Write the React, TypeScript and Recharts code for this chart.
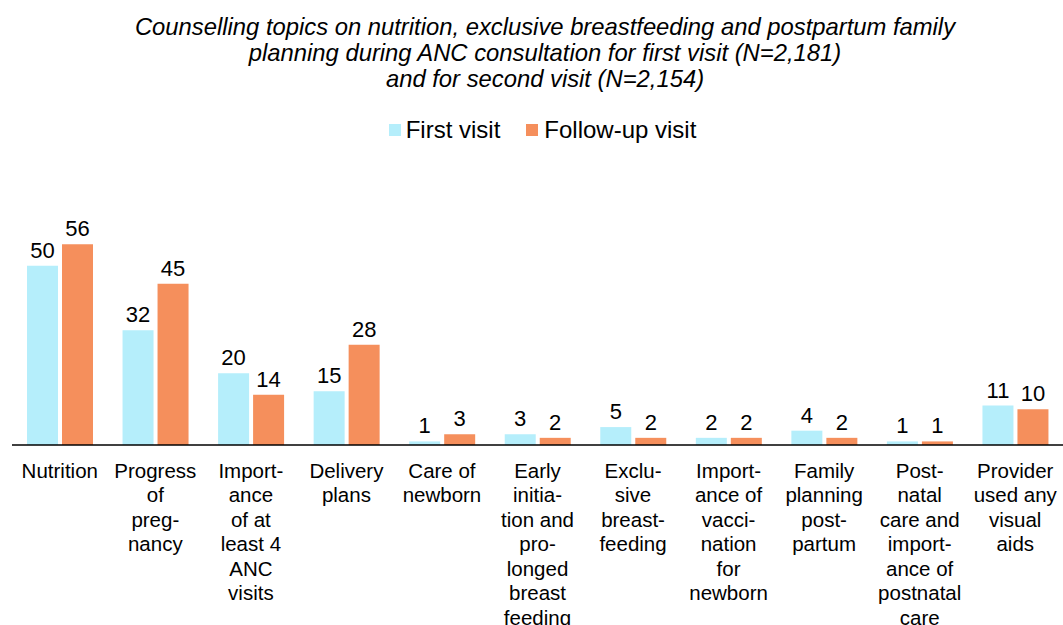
import React from 'react';
import { BarChart, Bar, XAxis, YAxis, LabelList } from 'recharts';

const categories = [
  'Nutrition',
  'Progress\nof\npreg-\nnancy',
  'Import-\nance\nof at\nleast 4\nANC\nvisits',
  'Delivery\nplans',
  'Care of\nnewborn',
  'Early\ninitia-\ntion and\npro-\nlonged\nbreast\nfeeding',
  'Exclu-\nsive\nbreast-\nfeeding',
  'Import-\nance of\nvacci-\nnation\nfor\nnewborn',
  'Family\nplanning\npost-\npartum',
  'Post-\nnatal\ncare and\nimport-\nance of\npostnatal\ncare',
  'Provider\nused any\nvisual\naids',
];
const firstVisit = [50, 32, 20, 15, 1, 3, 5, 2, 4, 1, 11];
const followUpVisit = [56, 45, 14, 28, 3, 2, 2, 2, 2, 1, 10];

const titleLines = [
  'Counselling topics on nutrition, exclusive breastfeeding and postpartum family',
  'planning during ANC consultation for first visit (N=2,181)',
  'and for second visit (N=2,154)',
];

const FONT = '"Liberation Sans", Arial, sans-serif';
const BLUE = '#b5eefb';
const ORANGE = '#f58f5c';

const data = categories.map((c, i) => ({
  name: c,
  first: firstVisit[i],
  follow: followUpVisit[i],
}));

const CategoryTick = (props: any) => {
  const { x, y, payload } = props;
  const lines = String(payload.value).split('\n');
  return (
    <text x={x} y={y + 10} textAnchor="middle" fontSize={20.5} fontFamily={FONT} fill="#000">
      {lines.map((l, i) => (
        <tspan key={i} x={x} dy={i === 0 ? '0.71em' : 24.5}>
          {l}
        </tspan>
      ))}
    </text>
  );
};

export default function App() {
  return (
    <div style={{ position: 'absolute', left: 0, top: 0, width: 1063, height: 625, background: '#fff' }}>
      <div
        style={{
          position: 'absolute',
          top: 14,
          left: 0,
          width: 1090,
          textAlign: 'center',
          fontFamily: FONT,
          fontStyle: 'italic',
          fontSize: 23.8,
          lineHeight: '26px',
          color: '#000',
        }}
      >
        {titleLines.map((t) => (
          <div key={t}>{t}</div>
        ))}
      </div>
      <div
        style={{
          position: 'absolute',
          top: 116,
          left: 0,
          width: 1063,
          display: 'flex',
          justifyContent: 'center',
          alignItems: 'center',
          fontFamily: FONT,
          fontSize: 24,
          color: '#000',
          paddingLeft: 22,
          boxSizing: 'border-box',
        }}
      >
        <span style={{ display: 'inline-block', width: 12, height: 12, background: BLUE, marginRight: 5 }} />
        <span style={{ marginRight: 26 }}>First visit</span>
        <span style={{ display: 'inline-block', width: 12, height: 12, background: ORANGE, marginRight: 6 }} />
        <span>Follow-up visit</span>
      </div>
      <div style={{ position: 'absolute', left: 0, top: 0 }}>
        <BarChart
          width={1063}
          height={625}
          data={data}
          margin={{ top: 230, right: 0, left: 12, bottom: 0 }}
          barCategoryGap={15}
          barGap={4}
        >
          <XAxis
            dataKey="name"
            interval={0}
            height={180}
            tickLine={false}
            axisLine={{ stroke: '#000', strokeWidth: 1.5 }}
            tick={<CategoryTick />}
          />
          <YAxis hide domain={[0, 60]} />
          <Bar dataKey="first" name="First visit" fill={BLUE} isAnimationActive={false}>
            <LabelList dataKey="first" position="top" offset={8} fontSize={22} fontFamily={FONT} fill="#000" />
          </Bar>
          <Bar dataKey="follow" name="Follow-up visit" fill={ORANGE} isAnimationActive={false}>
            <LabelList dataKey="follow" position="top" offset={8} fontSize={22} fontFamily={FONT} fill="#000" />
          </Bar>
        </BarChart>
      </div>
    </div>
  );
}
